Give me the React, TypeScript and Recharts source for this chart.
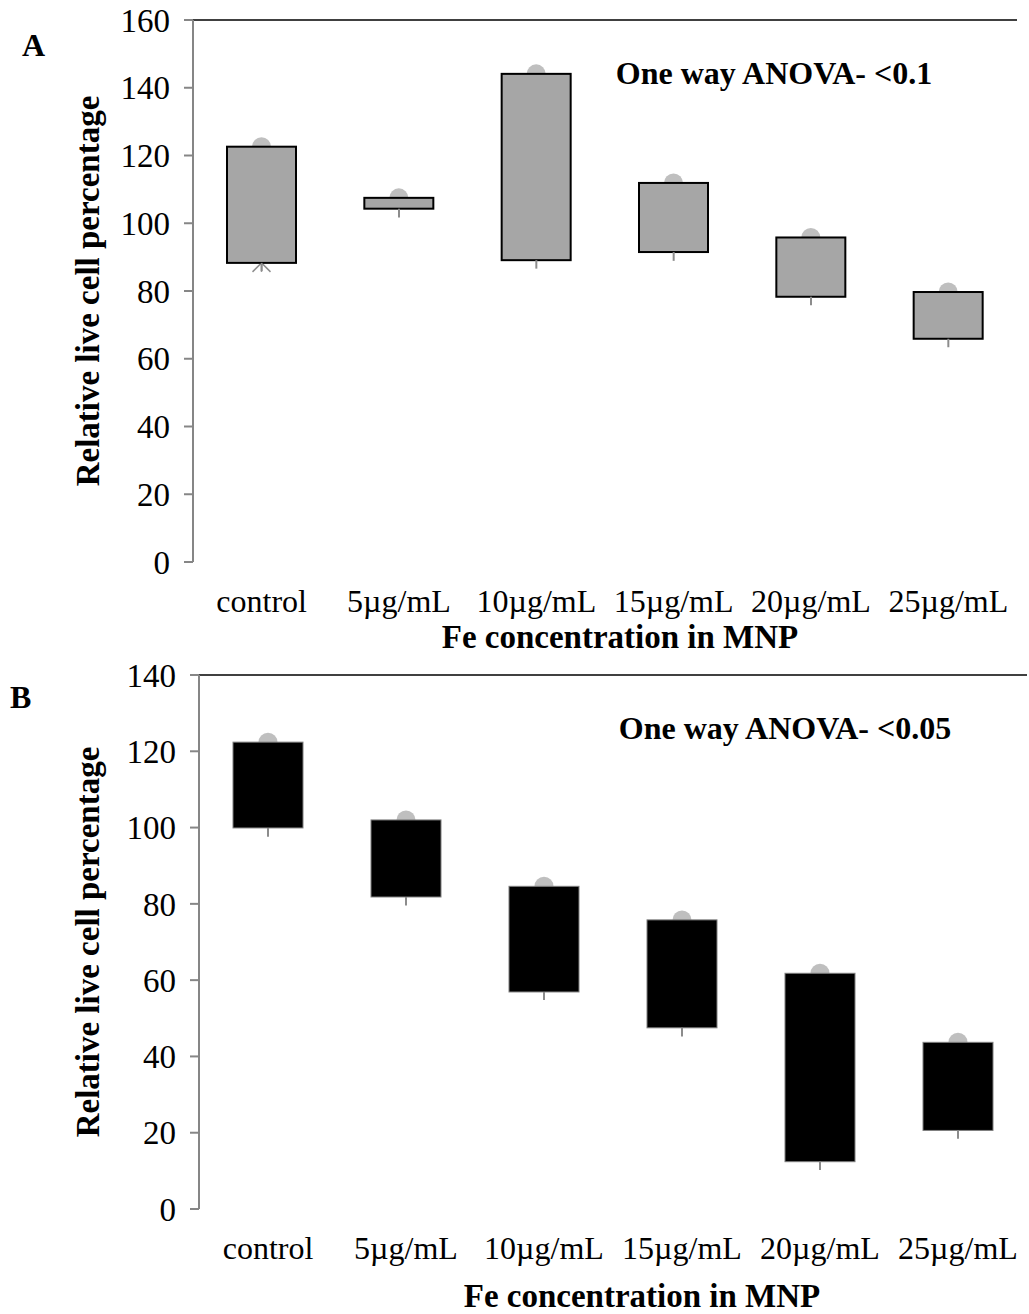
import React from "react";
import {
  ComposedChart,
  Bar,
  Line,
  XAxis,
  YAxis,
  ErrorBar,
  ReferenceLine
} from "recharts";

// doses on the x axis (same for both panels)
const doses = ["control", "5µg/mL", "10µg/mL", "15µg/mL", "20µg/mL", "25µg/mL"];

// panel A: box top, box bottom, lower whisker
const aHigh = [122.6, 107.5, 144.1, 111.9, 95.8, 79.7];
const aLow = [88.3, 104.3, 89.1, 91.5, 78.3, 65.9];
const aMin = [85.9, 101.7, 86.6, 88.9, 75.8, 63.4];
// star marker on the low value, only on the control box
const aStar = [true, false, false, false, false, false];
const aTicks = [0, 20, 40, 60, 80, 100, 120, 140, 160];

// panel B
const bHigh = [122.4, 102.0, 84.6, 75.8, 61.8, 43.7];
const bLow = [99.9, 81.8, 56.9, 47.5, 12.4, 20.6];
const bMin = [97.6, 79.6, 54.8, 45.2, 10.2, 18.4];
const bStar = [false, false, false, false, false, false];
const bTicks = [0, 20, 40, 60, 80, 100, 120, 140];

const edgeTicks = [0, 1, 2, 3, 4, 5, 6];

const FONT = "'Liberation Serif', 'Times New Roman', Times, serif";
const AXIS_GREY = "#868686";

function buildRows(high: number[], low: number[], min: number[], star: boolean[]) {
  return doses.map((dose, i) => ({
    dose,
    box: [low[i], high[i]],
    low: low[i],
    whisker: [low[i] - min[i], 0],
    star: star[i]
  }));
}

// box with the grey "high" circle behind its top edge and
// an optional star marker behind its bottom edge
function BoxShape(props: any) {
  const { x, y, width, height, payload, fill, stroke, strokeWidth } = props;
  if (x == null || y == null) return <g />;
  const top = Math.min(y, y + height);
  const h = Math.abs(height);
  const cx = x + width / 2;
  const bottom = top + h;
  const s = 9;
  return (
    <g>
      <circle cx={cx} cy={top} r={9.5} fill="#bfbfbf" />
      {payload && payload.star ? (
        <g stroke="#8c8c8c" strokeWidth={1.5}>
          <line x1={cx} y1={bottom - s} x2={cx} y2={bottom + s} />
          <line x1={cx - s} y1={bottom - s} x2={cx + s} y2={bottom + s} />
          <line x1={cx + s} y1={bottom - s} x2={cx - s} y2={bottom + s} />
        </g>
      ) : null}
      <rect x={x} y={top} width={width} height={h} fill={fill} stroke={stroke} strokeWidth={strokeWidth} />
    </g>
  );
}

type PanelProps = {
  rows: any[];
  yMax: number;
  ticks: number[];
  width: number;
  height: number;
  margin: { top: number; right: number; bottom: number; left: number };
  xAxisHeight: number;
  barSize: number;
  boxFill: string;
  boxStroke: string;
  boxStrokeWidth: number;
  titleDx: number;
  titleY: number;
  yTitleX: number;
};

function Panel(p: PanelProps) {
  return (
    <ComposedChart width={p.width} height={p.height} data={p.rows} margin={p.margin}>
      <XAxis
        dataKey="dose"
        axisLine={false}
        tickLine={false}
        tickSize={0}
        tickMargin={27}
        height={p.xAxisHeight}
        interval={0}
        tick={{ fill: "#000", fontSize: 32, fontFamily: FONT }}
        label={{
          content: (lp: any) => {
            const vb = lp.viewBox || {};
            return (
              <text
                x={vb.x + vb.width / 2 + p.titleDx}
                y={vb.y + p.titleY}
                textAnchor="middle"
                dominantBaseline="central"
                fontFamily={FONT}
                fontSize={33}
                fontWeight="bold"
                fill="#000"
              >
                Fe concentration in MNP
              </text>
            );
          }
        }}
      />
      <XAxis
        xAxisId="edges"
        type="number"
        domain={[0, 6]}
        ticks={edgeTicks}
        allowDataOverflow
        height={0}
        tickSize={9}
        tickFormatter={() => ""}
        axisLine={{ stroke: AXIS_GREY, strokeWidth: 2 }}
        tickLine={{ stroke: AXIS_GREY, strokeWidth: 2 }}
      />
      <YAxis
        type="number"
        domain={[0, p.yMax]}
        ticks={p.ticks}
        width={120}
        tickSize={9}
        tickMargin={14}
        axisLine={{ stroke: AXIS_GREY, strokeWidth: 2 }}
        tickLine={{ stroke: AXIS_GREY, strokeWidth: 2 }}
        tick={{ fill: "#000", fontSize: 33, fontFamily: FONT }}
        label={{
          content: (lp: any) => {
            const vb = lp.viewBox || {};
            const x = vb.x + p.yTitleX;
            const y = vb.y + vb.height / 2;
            return (
              <text
                x={x}
                y={y}
                transform={`rotate(-90 ${x} ${y})`}
                textAnchor="middle"
                dominantBaseline="central"
                fontFamily={FONT}
                fontSize={33}
                fontWeight="bold"
                fill="#000"
              >
                Relative live cell percentage
              </text>
            );
          }
        }}
      />
      <ReferenceLine y={p.yMax} stroke="#000" strokeWidth={1.5} />
      <ReferenceLine x={6} xAxisId="edges" stroke="#000" strokeWidth={1.5} />

      <Bar
        dataKey="box"
        barSize={p.barSize}
        fill={p.boxFill}
        stroke={p.boxStroke}
        strokeWidth={p.boxStrokeWidth}
        shape={BoxShape}
        isAnimationActive={false}
      />
      {/* lower whiskers */}
      <Line
        dataKey="low"
        stroke="none"
        dot={false}
        activeDot={false}
        isAnimationActive={false}
      >
        <ErrorBar dataKey="whisker" direction="y" width={0} stroke="#8c8c8c" strokeWidth={2} />
      </Line>
    </ComposedChart>
  );
}

export default function App() {
  const rowsA = buildRows(aHigh, aLow, aMin, aStar);
  const rowsB = buildRows(bHigh, bLow, bMin, bStar);

  return (
    <div style={{ position: "absolute", left: 0, top: 0, width: 1029, height: 1314, background: "#fff" }}>
      <div style={{ position: "absolute", left: 0, top: 0 }}>
        <Panel
          rows={rowsA}
          yMax={160}
          ticks={aTicks}
          width={1029}
          height={660}
          margin={{ top: 20, right: 12, bottom: 0, left: 73 }}
          xAxisHeight={98}
          barSize={69}
          boxFill="#a6a6a6"
          boxStroke="#000"
          boxStrokeWidth={2}
          titleDx={15}
          titleY={75}
          yTitleX={15}
        />
      </div>
      <div style={{ position: "absolute", left: 0, top: 655 }}>
        <Panel
          rows={rowsB}
          yMax={140}
          ticks={bTicks}
          width={1029}
          height={659}
          margin={{ top: 20, right: 2, bottom: 0, left: 79 }}
          xAxisHeight={105}
          barSize={70}
          boxFill="#000"
          boxStroke="#7f7f7f"
          boxStrokeWidth={1}
          titleDx={29}
          titleY={87}
          yTitleX={9}
        />
      </div>
      <svg
        width={1029}
        height={1314}
        style={{ position: "absolute", left: 0, top: 0, pointerEvents: "none" }}
        fontFamily={FONT}
        fontWeight="bold"
      >
        <text x={22} y={45} fontSize={32} dominantBaseline="central">A</text>
        <text x={10} y={697} fontSize={32} dominantBaseline="central">B</text>
        <text x={774} y={73} fontSize={32} textAnchor="middle" dominantBaseline="central">
          One way ANOVA- &lt;0.1
        </text>
        <text x={785} y={728} fontSize={32} textAnchor="middle" dominantBaseline="central">
          One way ANOVA- &lt;0.05
        </text>
      </svg>
    </div>
  );
}
